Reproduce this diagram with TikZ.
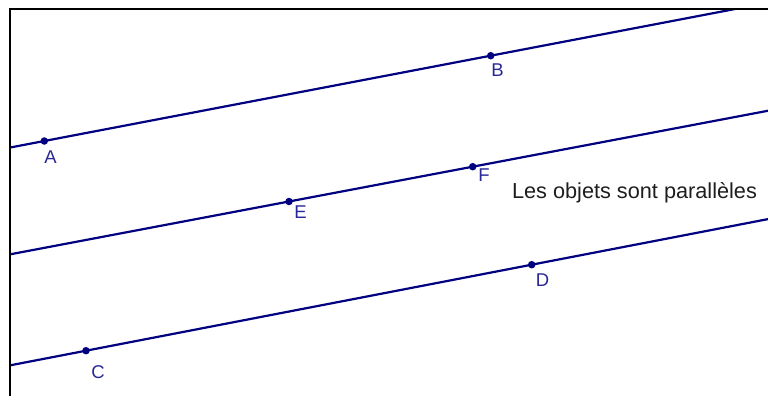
\documentclass[tikz,border=0pt]{standalone}
\usepackage{fontspec}
\setmainfont{Liberation Sans}
\usetikzlibrary{calc}
\definecolor{geoline}{RGB}{0,0,128}
\definecolor{geolabel}{RGB}{40,40,150}
\definecolor{geotext}{RGB}{30,30,30}
\tikzset{
  geo/.style={geoline, line width=2.2pt},
  pt/.style={circle, fill=geoline, inner sep=0pt, minimum size=7.5pt},
  lbl/.style={text=geolabel, font=\fontsize{18.5}{18.5}\selectfont, inner sep=0pt},
  frame/.style={black, line width=2.4pt}
}
\begin{document}
\begin{tikzpicture}[x=1pt,y=-1pt]
\useasboundingbox (0,0) rectangle (768,396);
\coordinate (A) at (44.3,141);
\coordinate (B) at (490.7,55.7);
\coordinate (E) at (289,201.5);
\coordinate (F) at (472.7,166.7);
\coordinate (C) at (86,350.7);
\coordinate (D) at (531.7,264.7);
\begin{scope}
  \clip (10,9) rectangle (768,396);
  \draw[geo] ($(A)!-2!(B)$) -- ($(A)!3!(B)$);
  \draw[geo] ($(E)!-5!(F)$) -- ($(E)!6!(F)$);
  \draw[geo] ($(C)!-2!(D)$) -- ($(C)!3!(D)$);
\end{scope}
\draw[frame] (10,396) -- (10,9) -- (768,9);
\foreach \p in {A,B,C,D,E,F} \node[pt] (p\p) at (\p) {};
\node[lbl] (lA) at (50.5,157) {A};
\node[lbl] (lB) at (497.5,70.5) {B};
\node[lbl] (lE) at (300.5,212) {E};
\node[lbl] (lF) at (484,175) {F};
\node[lbl] (lC) at (98,372) {C};
\node[lbl] (lD) at (542.5,280.5) {D};
\node[text=geotext, font=\fontsize{21.7}{21.7}\selectfont, inner sep=0pt] (msg) at (634.5,193) {Les objets sont parallèles};
\end{tikzpicture}
\end{document}
